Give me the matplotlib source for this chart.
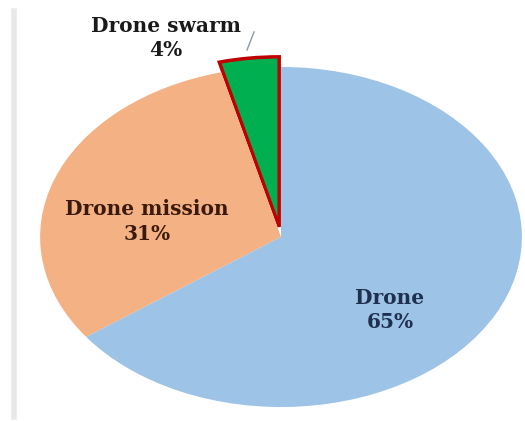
import matplotlib.pyplot as plt
from matplotlib.lines import Line2D

# data
labels = ['Drone swarm', 'Drone mission', 'Drone']
values = [4, 31, 65]
colors = ['#00b050', '#f4b183', '#9dc3e6']
text_colors = ['#1a1a1a', '#3a1a0c', '#1f2f4f']
label_pos = [(-0.477, 1.17), (-0.556, 0.09), (0.452, -0.43)]

fig = plt.figure(figsize=(5.25, 4.21), dpi=100)
fig.add_artist(Line2D([0.027, 0.027], [0.01, 0.975], color='#e8e8e8', lw=4))

# stretched axes so the pie comes out as an ellipse
ax = fig.add_axes([0.0305, -0.0879, 1.0095, 1.05])
wedges, _ = ax.pie(values, colors=colors, startangle=90, counterclock=True,
                   explode=[0.06, 0, 0], wedgeprops=dict(linewidth=0))
wedges[0].set_edgecolor('#c00000')
wedges[0].set_linewidth(2.5)
ax.set_aspect('auto')
ax.set_xlim(-1.1, 1.1)
ax.set_ylim(-1.3, 1.3)

for lab, v, c, (x, y) in zip(labels, values, text_colors, label_pos):
    ax.text(x, y, f'{lab}\n{v}%', ha='center', va='center', color=c,
            fontsize=14.5, fontweight='bold', family='DejaVu Serif',
            linespacing=1.3)

# leader line for the small slice
ax.plot([-0.112, -0.141], [1.206, 1.1], color='#8a9aa8', lw=1, clip_on=False)

plt.savefig('out.png', dpi=100)
